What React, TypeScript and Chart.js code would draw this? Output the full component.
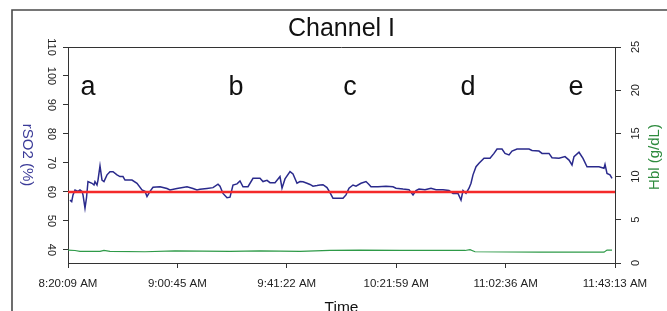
import React, { useEffect, useRef } from "react";
import { Chart, registerables } from "chart.js";

Chart.register(...registerables);

const chartTitle = "Channel I";
const xTitle = "Time";
const leftTitle = "rSO2 (%)";
const rightTitle = "Hbl (g/dL)";

const xTickLabels = ["8:20:09 AM", "9:00:45 AM", "9:41:22 AM", "10:21:59 AM", "11:02:36 AM", "11:43:13 AM"];
const leftTicks = [40, 50, 60, 70, 80, 90, 100, 110];
const rightTicks = [0, 5, 10, 15, 20, 25];

// minutes since 8:20:09 AM
const rso2Time = [
  0.74, 1.37, 1.86, 2.6, 3.71, 4.45, 5.2, 5.57, 6.31, 6.87, 7.42, 8.91, 9.65, 10.02, 10.77, 11.14, 11.88, 12.62,
  13.36, 14.48, 15.59, 16.71, 18.19, 19.3, 20.42, 21.16, 23.76, 25.62, 27.47, 28.59, 29.33, 30.44, 31.56, 34.15,
  36.75, 37.86, 40.46, 44.18, 46.4, 47.89, 49.0, 51.6, 53.83, 55.69, 56.43, 57.54, 59.03, 60.14, 61.25, 62.74,
  63.85, 64.97, 66.82, 68.68, 71.28, 72.39, 73.88, 74.99, 76.85, 78.7, 79.45, 80.56, 82.42, 83.53, 85.01, 86.13,
  87.24, 88.73, 89.84, 90.95, 92.44, 93.55, 94.67, 96.15, 97.27, 98.38, 99.86, 102.09, 103.2, 104.32, 105.8,
  106.92, 108.77, 110.63, 111.74, 112.49, 115.08, 118.05, 120.65, 121.77, 124.37, 126.59, 128.08, 129.19, 130.31,
  132.53, 134.76, 136.62, 139.22, 141.44, 142.93, 144.78, 145.9, 146.64, 147.75, 148.87, 149.61, 150.35, 151.47,
  152.58, 154.44, 156.67, 158.15, 159.27, 161.12, 162.23, 163.72, 164.83, 166.69, 171.14, 172.26, 174.85, 175.97,
  178.57, 179.68, 182.28, 184.51, 186.0, 187.11, 187.85, 189.7, 191.19, 192.68, 194.9, 197.13, 198.98, 199.36,
  200.1, 201.21, 201.96,
];
const rso2Values = [
  57.2, 56.7, 59.0, 60.7, 60.2, 60.7, 60.2, 59.0, 54.4, 58.0, 63.6, 63.0, 62.4, 63.6, 62.4, 64.1, 69.0, 64.1,
  63.6, 65.9, 67.0, 67.0, 65.9, 65.3, 65.3, 64.1, 64.1, 63.0, 60.7, 60.2, 58.4, 60.2, 61.6, 61.8,
  61.2, 60.7, 61.2, 61.8, 61.2, 60.7, 60.9, 61.2, 61.5, 62.7, 62.0, 59.5, 58.0, 58.2, 62.4, 62.8,
  63.8, 61.8, 61.8, 64.7, 64.7, 63.6, 64.0, 63.2, 63.2, 65.3, 61.3, 64.5, 67.0, 66.2, 63.0, 63.6,
  63.5, 63.0, 62.6, 62.0, 62.2, 62.4, 62.5, 61.5, 59.8, 57.8, 57.8, 57.8, 59.0, 61.3, 62.4,
  62.0, 63.0, 63.6, 62.6, 61.8, 61.8, 62.0, 61.8, 61.3, 61.0, 60.8, 59.0, 60.5, 61.0,
  60.8, 61.3, 60.8, 60.8, 60.5, 59.5, 59.5, 57.2, 60.5, 59.5, 61.3, 63.0, 65.9, 68.7,
  69.9, 71.6, 71.6, 73.3, 74.8, 74.8, 73.3, 72.8, 74.1, 74.8, 74.8, 74.3, 74.1, 73.3,
  73.3, 71.8, 71.6, 72.2, 71.0, 69.3, 72.2, 73.7, 71.6, 68.7, 68.7, 68.7, 68.2, 69.5,
  66.4, 65.9, 64.7,
];

const hblTime = [0, 2.6, 4.45, 11.88, 13.36, 15.59, 28.59, 39.72, 60.14, 71.28, 86.13, 97.27, 108.4, 123.25, 147.38, 149.24, 151.1, 175.22, 198.98, 200.1, 201.96];
const hblValues = [1.5, 1.45, 1.35, 1.35, 1.45, 1.35, 1.3, 1.4, 1.35, 1.4, 1.35, 1.45, 1.5, 1.45, 1.45, 1.55, 1.3, 1.25, 1.25, 1.5, 1.5];

const thresholdValue = 60;

const phaseLabels = ["a", "b", "c", "d", "e"];
const phaseTimes = [7.4, 62.4, 104.7, 148.5, 188.6];
const phaseLevel = 93.5;

const FONT = "'Liberation Sans', Arial, Helvetica, sans-serif";

function toSeconds(label: string): number {
  const [t, ap] = label.split(" ");
  const [h, m, s] = t.split(":").map(Number);
  return ((h % 12) + (ap === "PM" ? 12 : 0)) * 3600 + m * 60 + s;
}
const xTickMinutes = xTickLabels.map((l) => (toSeconds(l) - toSeconds(xTickLabels[0])) / 60);
const xEnd = xTickMinutes[xTickMinutes.length - 1];

const decorPlugin = {
  id: "decor",
  beforeDraw(chart: any) {
    const ctx = chart.ctx;
    ctx.save();
    ctx.strokeStyle = "#4a4a4a";
    ctx.lineWidth = 1.6;
    ctx.beginPath();
    ctx.moveTo(12, chart.height);
    ctx.lineTo(12, 10);
    ctx.lineTo(chart.width, 10);
    ctx.stroke();
    ctx.restore();
  },
  afterDraw(chart: any) {
    const ctx = chart.ctx;
    const a = chart.chartArea;
    const xs = chart.scales.x;
    const ys = chart.scales.y;
    ctx.save();
    // top of plot box
    ctx.strokeStyle = "#333";
    ctx.lineWidth = 1;
    ctx.beginPath();
    ctx.moveTo(a.left, a.top + 0.5);
    ctx.lineTo(a.right, a.top + 0.5);
    ctx.stroke();
    // phase letters
    ctx.fillStyle = "#111";
    ctx.font = `27px ${FONT}`;
    ctx.textAlign = "center";
    ctx.textBaseline = "alphabetic";
    phaseLabels.forEach((lab, i) => {
      ctx.fillText(lab, xs.getPixelForValue(phaseTimes[i]), ys.getPixelForValue(phaseLevel));
    });
    // axis titles
    const cy = (a.top + a.bottom) / 2;
    ctx.font = `15px ${FONT}`;
    ctx.textBaseline = "middle";
    ctx.fillStyle = "#3b3b98";
    ctx.save();
    ctx.translate(27, cy);
    ctx.rotate(Math.PI / 2);
    ctx.fillText(leftTitle, 0, 0);
    ctx.restore();
    ctx.fillStyle = "#2e8b3e";
    ctx.save();
    ctx.translate(655, cy + 2);
    ctx.rotate(-Math.PI / 2);
    ctx.fillText(rightTitle, 0, 0);
    ctx.restore();
    ctx.restore();
  },
};

export default function App() {
  const ref = useRef<HTMLCanvasElement | null>(null);

  useEffect(() => {
    if (!ref.current) return;
    const chart = new Chart(ref.current, {
      type: "line",
      data: {
        datasets: [
          {
            label: "threshold",
            data: [
              { x: 0, y: thresholdValue },
              { x: xEnd, y: thresholdValue },
            ],
            borderColor: "#f42a2a",
            borderWidth: 2.6,
            pointRadius: 0,
            yAxisID: "y",
          },
          {
            label: "rSO2",
            data: rso2Time.map((t, i) => ({ x: t, y: rso2Values[i] })),
            borderColor: "#2a2a8c",
            borderWidth: 1.5,
            pointRadius: 0,
            tension: 0,
            yAxisID: "y",
          },
          {
            label: "Hbl",
            data: hblTime.map((t, i) => ({ x: t, y: hblValues[i] })),
            borderColor: "#2e9a48",
            borderWidth: 1.2,
            pointRadius: 0,
            tension: 0,
            yAxisID: "y1",
          },
        ],
      },
      options: {
        animation: false,
        responsive: false,
        devicePixelRatio: 1,
        layout: { padding: 0 },
        plugins: {
          legend: { display: false },
          tooltip: { enabled: false },
          title: {
            display: true,
            text: chartTitle,
            fullSize: false,
            color: "#111",
            font: { family: FONT, size: 25, weight: "normal" },
            padding: { top: 14, bottom: 3 },
          },
        },
        scales: {
          x: {
            type: "linear",
            position: "bottom",
            min: 0,
            max: xEnd,
            afterBuildTicks: (s: any) => {
              s.ticks = xTickMinutes.map((v) => ({ value: v }));
            },
            afterFit: (s: any) => {
              s.height = 48;
            },
            ticks: {
              callback: (_v: any, i: number) => xTickLabels[i],
              font: { family: FONT, size: 11.5 },
              color: "#222",
              padding: 8.5,
              maxRotation: 0,
              minRotation: 0,
              autoSkip: false,
            },
            grid: { display: true, drawOnChartArea: false, tickLength: 5, color: "#333" },
            border: { display: true, color: "#333" },
            title: {
              display: true,
              text: xTitle,
              color: "#111",
              font: { family: FONT, size: 15.5 },
              padding: { top: 0, bottom: -6 },
            },
          },
          y: {
            type: "linear",
            position: "left",
            min: 35.5,
            max: 110,
            afterBuildTicks: (s: any) => {
              s.ticks = leftTicks.map((v) => ({ value: v }));
            },
            afterFit: (s: any) => {
              s.width = 68;
            },
            ticks: {
              font: { family: FONT, size: 11 },
              color: "#222",
              padding: 3,
              minRotation: -90,
              maxRotation: -90,
              crossAlign: "center",
            },
            grid: { display: true, drawOnChartArea: false, tickLength: 5, color: "#333" },
            border: { display: true, color: "#333" },
          },
          y1: {
            type: "linear",
            position: "right",
            min: 0,
            max: 25,
            afterBuildTicks: (s: any) => {
              s.ticks = rightTicks.map((v) => ({ value: v }));
            },
            afterFit: (s: any) => {
              s.width = 52;
            },
            ticks: {
              font: { family: FONT, size: 11 },
              color: "#222",
              padding: 9,
              minRotation: 90,
              maxRotation: 90,
              crossAlign: "center",
            },
            grid: { display: true, drawOnChartArea: false, tickLength: 6, color: "#333" },
            border: { display: true, color: "#333" },
          },
        },
      } as any,
      plugins: [decorPlugin],
    });
    return () => chart.destroy();
  }, []);

  return (
    <div style={{ position: "fixed", left: 0, top: 0, width: 667, height: 311, overflow: "hidden", background: "#fff" }}>
      <canvas ref={ref} width={667} height={311} style={{ display: "block", width: 667, height: 311 }} />
    </div>
  );
}
